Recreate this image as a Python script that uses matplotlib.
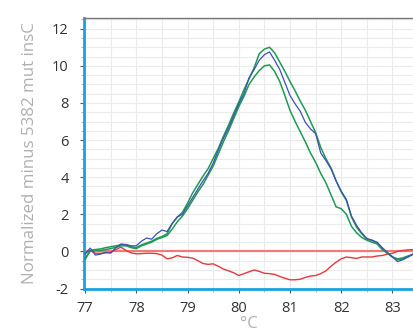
import matplotlib
matplotlib.use('Agg')
import matplotlib.pyplot as plt
from matplotlib.ticker import MultipleLocator
import numpy as np

plt.rcParams['font.family'] = ['Open Sans', 'DejaVu Sans']
plt.rcParams['axes.unicode_minus'] = False

temp = np.round(np.arange(77.0, 83.45, 0.1), 1)

blue = [-0.15, 0.18, -0.2, -0.15, -0.05, -0.1, 0.2, 0.4, 0.37, 0.3,
        0.3, 0.55, 0.72, 0.66, 0.95, 1.15, 1.07, 1.5, 1.85, 2.0,
        2.45, 2.9, 3.35, 3.8, 4.2, 4.75, 5.45, 6.1, 6.65, 7.3,
        7.95, 8.5, 9.35, 9.8, 10.3, 10.6, 10.75, 10.3, 9.8, 9.1,
        8.4, 7.95, 7.55, 6.95, 6.6, 6.35, 5.3, 4.9, 4.45, 3.8,
        3.25, 2.8, 1.9, 1.4, 1.0, 0.7, 0.6, 0.5, 0.2, -0.05,
        -0.3, -0.55, -0.45, -0.3, -0.15]

green_hi = [-0.45, 0.05, 0.1, 0.13, 0.2, 0.25, 0.3, 0.35, 0.35, 0.25,
            0.2, 0.35, 0.45, 0.55, 0.7, 0.8, 0.95, 1.5, 1.85, 2.1,
            2.6, 3.15, 3.6, 4.05, 4.45, 5.0, 5.55, 6.2, 6.8, 7.45,
            8.05, 8.7, 9.3, 9.9, 10.65, 10.9, 11.0, 10.7, 10.2, 9.7,
            9.15, 8.65, 8.1, 7.6, 7.0, 6.4, 5.6, 5.0, 4.5, 3.8,
            3.2, 2.75, 1.85, 1.3, 0.95, 0.65, 0.6, 0.45, 0.15, -0.1,
            -0.3, -0.45, -0.4, -0.3, -0.15]

green_lo = [-0.35, 0.0, 0.05, 0.05, 0.1, 0.15, 0.22, 0.3, 0.3, 0.2,
            0.15, 0.3, 0.4, 0.5, 0.65, 0.75, 0.85, 1.2, 1.6, 1.9,
            2.3, 2.75, 3.2, 3.6, 4.1, 4.6, 5.25, 5.9, 6.5, 7.15,
            7.8, 8.35, 9.0, 9.4, 9.75, 10.0, 10.05, 9.7, 9.15, 8.4,
            7.6, 7.0, 6.45, 5.9, 5.3, 4.8, 4.2, 3.7, 3.05, 2.4,
            2.3, 2.0, 1.35, 1.0, 0.75, 0.6, 0.5, 0.4, 0.1, -0.1,
            -0.3, -0.4, -0.35, -0.25, -0.15]

red = [-0.1, 0.05, -0.1, -0.1, -0.08, -0.05, 0.1, 0.23, 0.05, -0.08,
       -0.13, -0.12, -0.1, -0.1, -0.12, -0.2, -0.4, -0.35, -0.22, -0.3,
       -0.32, -0.36, -0.5, -0.65, -0.7, -0.67, -0.8, -0.95, -1.05, -1.15,
       -1.3, -1.2, -1.1, -1.0, -1.08, -1.18, -1.2, -1.24, -1.35, -1.45,
       -1.53, -1.53, -1.5, -1.4, -1.33, -1.3, -1.2, -1.05, -0.8, -0.58,
       -0.4, -0.3, -0.34, -0.38, -0.3, -0.3, -0.3, -0.25, -0.22, -0.15,
       -0.1, 0.0, 0.05, 0.08, 0.1]

baseline = np.zeros(len(temp))

fig = plt.figure(figsize=(4.14, 3.32), dpi=100)
ax = fig.add_axes([0.203, 0.131, 0.797, 0.816])

ax.plot(temp, baseline, color='#f07a7a', lw=1.6, zorder=2)
ax.plot(temp, red, color='#e8383a', lw=1.0, zorder=3)
ax.plot(temp, green_lo, color='#1f9a55', lw=1.1, zorder=3)
ax.plot(temp, blue, color='#3d4fb5', lw=0.9, zorder=4)
ax.plot(temp, green_hi, color='#1f9a55', lw=1.1, zorder=3)

ax.set_xlim(76.98, 83.42)
ax.set_ylim(-2, 12.6)
ax.xaxis.set_major_locator(MultipleLocator(1))
ax.xaxis.set_minor_locator(MultipleLocator(0.5))
ax.yaxis.set_major_locator(MultipleLocator(2))
ax.yaxis.set_minor_locator(MultipleLocator(0.5))
ax.grid(which='both', color='#ebebeb', lw=0.8)
ax.set_axisbelow(True)

for s in ['left', 'bottom']:
    ax.spines[s].set_color('#1ba1e2')
    ax.spines[s].set_linewidth(2)
ax.spines['top'].set_color('#777777')
ax.spines['top'].set_linewidth(1)
ax.spines['right'].set_visible(False)

ax.tick_params(which='major', labelsize=10.5, labelcolor='#333333', color='#555555', length=3, width=0.8)
ax.tick_params(axis='y', which='major', pad=8)
ax.tick_params(axis='x', which='major', pad=6)
ax.tick_params(which='minor', color='#aaaaaa', length=2, width=0.6)

ax.set_ylabel('Normalized minus 5382 mut insC', color='#b0b0b0', fontsize=12.2, labelpad=10)
ax.set_xlabel('°C', color='#b0b0b0', fontsize=12, labelpad=0)

fig.savefig('out.png', dpi=100)
